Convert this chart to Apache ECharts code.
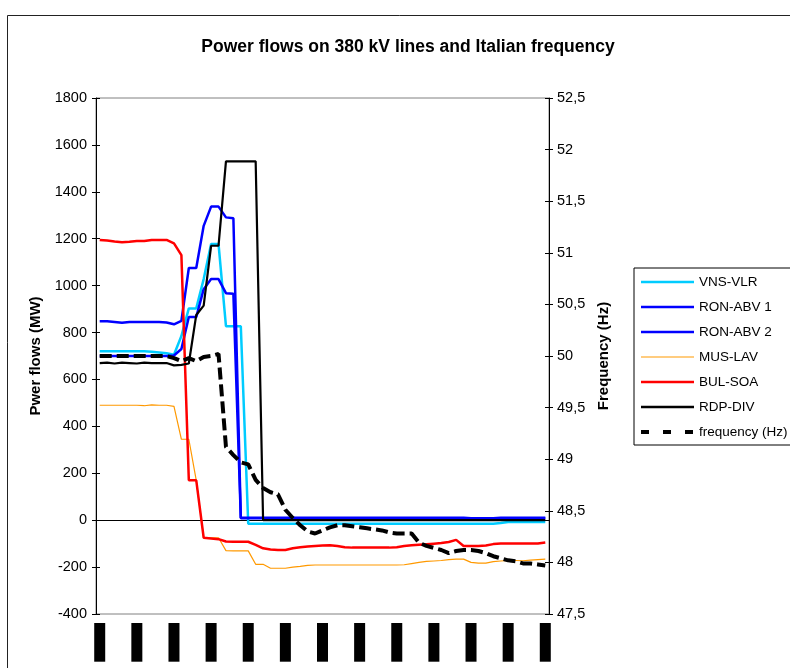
<!DOCTYPE html>
<html>
<head>
<meta charset="utf-8">
<script src="https://cdn.jsdelivr.net/npm/echarts@6/dist/echarts.min.js"></script>
<style>
  html, body { margin: 0; padding: 0; background: #fff; }
  #chart { width: 790px; height: 668px; }
</style>
</head>
<body>
<div id="chart"></div>
<script>
// time stamps (the labels are blacked out in the original)
const times = [
  '3:00:00','3:00:30','3:01:00','3:01:30','3:02:00','3:02:30','3:03:00','3:03:30','3:04:00','3:04:30',
  '3:05:00','3:05:30','3:06:00','3:06:30','3:07:00','3:07:30','3:08:00','3:08:30','3:09:00','3:09:30',
  '3:10:00','3:10:30','3:11:00','3:11:30','3:12:00','3:12:30','3:13:00','3:13:30','3:14:00','3:14:30',
  '3:15:00','3:15:30','3:16:00','3:16:30','3:17:00','3:17:30','3:18:00','3:18:30','3:19:00','3:19:30',
  '3:20:00','3:20:30','3:21:00','3:21:30','3:22:00','3:22:30','3:23:00','3:23:30','3:24:00','3:24:30',
  '3:25:00','3:25:30','3:26:00','3:26:30','3:27:00','3:27:30','3:28:00','3:28:30','3:29:00','3:29:30',
  '3:30:00'
];

// power flows, MW
const vnsVlr = [
  720, 720, 720, 720, 720, 720, 720, 718, 715, 712,
  705, 785, 903, 903, 1028, 1177, 1177, 827, 827, 827,
  -15, -15, -15, -15, -15, -15, -15, -15, -15, -15,
  -15, -15, -15, -15, -15, -15, -15, -15, -15, -15,
  -15, -15, -15, -15, -15, -15, -15, -15, -15, -15,
  -15, -15, -15, -15, -12, -8, -8, -8, -8, -8,
  -8
];
const ronAbv1 = [
  848, 848, 845, 842, 845, 845, 845, 845, 845, 843,
  835, 850, 1075, 1075, 1255, 1337, 1337, 1291, 1287, 10,
  10, 10, 10, 10, 10, 10, 10, 10, 10, 10,
  10, 10, 10, 10, 10, 10, 10, 10, 10, 10,
  10, 10, 10, 10, 10, 10, 10, 10, 10, 10,
  8, 5, 5, 8, 10, 10, 10, 10, 10, 10,
  10
];
const ronAbv2 = [
  700, 700, 700, 700, 700, 700, 700, 700, 700, 700,
  702, 730, 866, 866, 985, 1028, 1028, 968, 965, 8,
  8, 8, 8, 8, 8, 8, 8, 8, 8, 8,
  8, 8, 8, 8, 8, 8, 8, 8, 8, 8,
  8, 8, 8, 8, 8, 8, 8, 8, 8, 8,
  8, 8, 8, 8, 8, 8, 8, 8, 8, 8,
  8
];
const musLav = [
  490, 490, 490, 490, 490, 490, 488, 492, 490, 490,
  485, 345, 345, 170, -75, -75, -75, -130, -131, -131,
  -131, -188, -188, -205, -205, -205, -200, -197, -193, -191,
  -191, -191, -191, -191, -191, -191, -191, -191, -191, -191,
  -191, -190, -185, -180, -176, -174, -172, -168, -166, -166,
  -180, -183, -183, -177, -174, -172, -172, -173, -170, -168,
  -166
];
const bulSoa = [
  1195, 1192, 1188, 1185, 1187, 1190, 1190, 1195, 1195, 1195,
  1180, 1130, 170, 170, -75, -78, -81, -91, -92, -92,
  -92, -105, -120, -125, -127, -127, -120, -115, -112, -110,
  -108, -107, -110, -115, -117, -117, -117, -117, -117, -117,
  -115, -110, -107, -105, -103, -100, -97, -93, -84, -110,
  -110, -110, -108, -102, -99, -99, -99, -99, -99, -99,
  -95
];
const rdpDiv = [
  670, 672, 668, 672, 670, 668, 672, 670, 670, 670,
  660, 662, 668, 875, 915, 1170, 1170, 1530, 1530, 1530,
  1530, 1530, 0, 0, 0, 0, 0, 0, 0, 0,
  0, 0, 0, 0, 0, 0, 0, 0, 0, 0,
  0, 0, 0, 0, 0, 0, 0, 0, 0, 0,
  0, 0, 0, 0, 0, 0, 0, 0, 0, 0,
  0
];
// Italian frequency, Hz
const frequency = [
  50, 50, 50, 50, 50, 50, 50, 50, 50, 50,
  49.98, 49.95, 49.98, 49.95, 49.99, 50.0, 50.02, 49.12, 49.04, 48.97,
  48.95, 48.8, 48.72, 48.68, 48.66, 48.51, 48.43, 48.36, 48.3, 48.28,
  48.31, 48.34, 48.36, 48.36, 48.35, 48.34, 48.33, 48.32, 48.31, 48.29,
  48.28, 48.28, 48.28, 48.19, 48.16, 48.14, 48.12, 48.09, 48.11, 48.12,
  48.12, 48.11, 48.09, 48.06, 48.04, 48.02, 48.01, 47.99, 47.99, 47.98,
  47.97
];

const font = 'Liberation Sans, Arial, sans-serif';

const chart = echarts.init(document.getElementById('chart'));

function lineSeries(name, data, color, width, yIdx, dash) {
  return {
    name: name,
    type: 'line',
    data: data,
    yAxisIndex: yIdx,
    xAxisIndex: 0,
    symbol: 'none',
    smooth: false,
    itemStyle: { color: color },
    lineStyle: { color: color, width: width, type: dash || 'solid' },
    emphasis: { disabled: true }
  };
}

const option = {
  animation: false,
  backgroundColor: '#fff',
  textStyle: { fontFamily: font, color: '#000' },
  graphic: [{
    type: 'rect',
    shape: { x: 7.5, y: 15.5, width: 900, height: 900 },
    style: { fill: null, stroke: '#222', lineWidth: 1 },
    z: -1
  }],
  title: {
    text: 'Power flows on 380 kV lines and Italian frequency',
    left: 403,
    top: 33,
    textAlign: 'center',
    textStyle: { fontFamily: font, fontWeight: 'bold', fontSize: 17.5, color: '#000' }
  },
  legend: {
    orient: 'vertical',
    left: 634,
    top: 268,
    padding: [7, 30, 6, 5],
    itemWidth: 53,
    itemHeight: 14,
    itemGap: 11,
    borderColor: '#000',
    borderWidth: 1,
    backgroundColor: '#fff',
    itemStyle: { opacity: 0 },
    textStyle: { fontFamily: font, fontSize: 13.5, color: '#000' },
    data: [
      { name: 'VNS-VLR', lineStyle: { width: 2.5 } },
      { name: 'RON-ABV 1', lineStyle: { width: 2.5 } },
      { name: 'RON-ABV 2', lineStyle: { width: 2.5 } },
      { name: 'MUS-LAV', lineStyle: { width: 1.2 } },
      { name: 'BUL-SOA', lineStyle: { width: 2.5 } },
      { name: 'RDP-DIV', lineStyle: { width: 2.5 } },
      { name: 'frequency (Hz)', lineStyle: { width: 4, type: [8, 14] } }
    ]
  },
  grid: {
    left: 96,
    top: 98,
    width: 453,
    height: 516,
    show: true,
    borderColor: '#808080',
    borderWidth: 1,
    backgroundColor: '#fff'
  },
  xAxis: [
    {
      type: 'category',
      data: times,
      position: 'bottom',
      boundaryGap: true,
      axisLine: { onZero: true, onZeroAxisIndex: 0, lineStyle: { color: '#000', width: 1 } },
      axisTick: { interval: 0, length: 4, lineStyle: { color: '#000' } },
      axisLabel: { show: false },
      splitLine: { show: false }
    },
    {
      // labels sit at the bottom of the plot
      type: 'category',
      data: times,
      position: 'bottom',
      boundaryGap: true,
      axisLine: { show: false, onZero: false },
      axisTick: { show: false },
      splitLine: { show: false },
      axisLabel: {
        interval: 4,
        rotate: 90,
        margin: 9,
        formatter: function (v) { return '{b|' + v + '}'; },
        rich: {
          b: { backgroundColor: '#000', color: '#000', fontSize: 11, lineHeight: 14, padding: [0, 1], fontFamily: font }
        }
      }
    },
    {
      type: 'category',
      data: times,
      position: 'bottom',
      boundaryGap: true,
      axisLine: { show: false, onZero: true, onZeroAxisIndex: 0 },
      axisTick: { interval: 0, inside: true, length: 4, lineStyle: { color: '#000' } },
      axisLabel: { show: false },
      splitLine: { show: false }
    }
  ],
  yAxis: [
    {
      type: 'value',
      position: 'left',
      min: -400,
      max: 1800,
      interval: 200,
      name: 'Pwer flows (MW)',
      nameLocation: 'middle',
      nameRotate: 90,
      nameGap: 46,
      nameTextStyle: { fontFamily: font, fontWeight: 'bold', fontSize: 15, color: '#000' },
      axisLine: { show: true, lineStyle: { color: '#000' } },
      axisTick: { show: true, length: 4, lineStyle: { color: '#000' } },
      axisLabel: {
        color: '#000', fontSize: 14.5, margin: 9, fontFamily: font,
        formatter: function (v) { return String(v); }
      },
      splitLine: { show: false }
    },
    {
      type: 'value',
      position: 'right',
      min: 47.5,
      max: 52.5,
      interval: 0.5,
      name: 'Frequency (Hz)',
      nameLocation: 'middle',
      nameRotate: 90,
      nameGap: 46,
      nameTextStyle: { fontFamily: font, fontWeight: 'bold', fontSize: 15, color: '#000' },
      axisLine: { show: true, lineStyle: { color: '#000' } },
      axisTick: { show: true, length: 4, lineStyle: { color: '#000' } },
      axisLabel: {
        color: '#000', fontSize: 14.5, margin: 8, fontFamily: font,
        formatter: function (v) { return String(+v.toFixed(1)).replace('.', ','); }
      },
      splitLine: { show: false }
    },
    {
      type: 'value',
      position: 'left',
      min: -400,
      max: 1800,
      interval: 200,
      axisLine: { show: false },
      axisTick: { show: true, inside: true, length: 4, lineStyle: { color: '#000' } },
      axisLabel: { show: false },
      splitLine: { show: false }
    },
    {
      type: 'value',
      position: 'right',
      min: 47.5,
      max: 52.5,
      interval: 0.5,
      axisLine: { show: false },
      axisTick: { show: true, inside: true, length: 4, lineStyle: { color: '#000' } },
      axisLabel: { show: false },
      splitLine: { show: false }
    }
  ],
  series: [
    lineSeries('VNS-VLR', vnsVlr, '#00CCFF', 2.5, 0),
    lineSeries('RON-ABV 1', ronAbv1, '#0000FF', 2.5, 0),
    lineSeries('RON-ABV 2', ronAbv2, '#0000FF', 2.5, 0),
    lineSeries('MUS-LAV', musLav, '#FF9900', 1.2, 0),
    lineSeries('BUL-SOA', bulSoa, '#FF0000', 2.5, 0),
    lineSeries('RDP-DIV', rdpDiv, '#000000', 2.2, 0),
    lineSeries('frequency (Hz)', frequency, '#000000', 4, 1, [12, 5])
  ]
};

chart.setOption(option);
</script>
</body>
</html>
